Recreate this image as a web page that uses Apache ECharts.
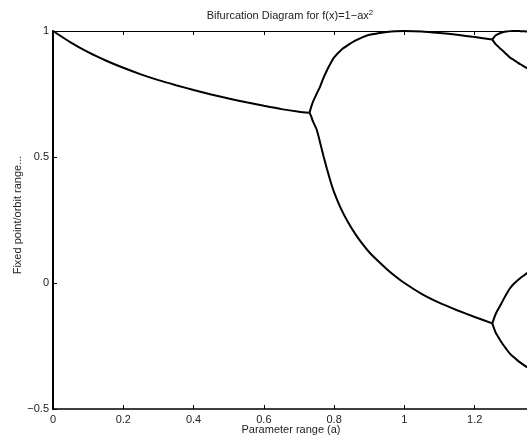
<!DOCTYPE html>
<html>
<head>
<meta charset="utf-8">
<script src="https://cdn.jsdelivr.net/npm/echarts@6/dist/echarts.min.js"></script>
<style>html,body{margin:0;padding:0;background:#fff;}#c{width:527px;height:436px;}</style>
</head>
<body>
<div id="c"></div>
<script>
// Parameter values (a) and orbit values
const fixedA = [0, 0.05, 0.1, 0.15, 0.2, 0.25, 0.3, 0.35, 0.4, 0.45, 0.5, 0.55, 0.6, 0.65, 0.7, 0.73];
const fixedX = [1.0, 0.955, 0.916, 0.883, 0.854, 0.828, 0.805, 0.785, 0.766, 0.748, 0.732, 0.717, 0.703, 0.690, 0.680, 0.676];

const p2A = [0.73, 0.735, 0.74, 0.75, 0.76, 0.77, 0.78, 0.79, 0.80, 0.82, 0.84, 0.86, 0.88, 0.90, 0.925, 0.95, 0.975, 1.0, 1.05, 1.1, 1.15, 1.2, 1.25];
const p2Upper = [0.676, 0.70, 0.72, 0.75, 0.779, 0.815, 0.845, 0.872, 0.895, 0.925, 0.945, 0.962, 0.975, 0.985, 0.991, 0.996, 0.999, 1.0, 0.998, 0.992, 0.985, 0.976, 0.966];
const p2Lower = [0.676, 0.66, 0.64, 0.61, 0.558, 0.502, 0.45, 0.402, 0.36, 0.293, 0.24, 0.195, 0.156, 0.122, 0.087, 0.055, 0.026, 0.0, -0.044, -0.079, -0.108, -0.135, -0.16];

const p4A = [1.25, 1.26, 1.27, 1.28, 1.29, 1.30, 1.31, 1.32, 1.33, 1.34, 1.35, 1.36];
const p4UU = [0.966, 0.983, 0.990, 0.995, 0.998, 0.9995, 1.0, 1.0, 0.9995, 0.999, 0.998, 0.997];
const p4UL = [0.966, 0.947, 0.934, 0.922, 0.908, 0.895, 0.886, 0.877, 0.868, 0.860, 0.852, 0.843];
const p4LU = [-0.16, -0.122, -0.096, -0.07, -0.045, -0.022, -0.005, 0.008, 0.02, 0.03, 0.04, 0.05];
const p4LL = [-0.16, -0.198, -0.221, -0.243, -0.262, -0.280, -0.293, -0.305, -0.316, -0.326, -0.335, -0.343];

const xTicks = [0, 0.2, 0.4, 0.6, 0.8, 1, 1.2, 1.4];
const yTicks = [-0.5, 0, 0.5, 1];

function pairs(a, v) { return a.map((x, i) => [x, v[i]]); }
function line(a, v) {
  return {
    type: 'line', data: pairs(a, v), showSymbol: false, smooth: 0.2,
    lineStyle: { color: '#000', width: 2 }, xAxisIndex: 0, yAxisIndex: 0, z: 3
  };
}
const fnt = 'Liberation Sans, Arial, Helvetica, sans-serif';
const chart = echarts.init(document.getElementById('c'), null, { renderer: 'canvas' });
chart.setOption({
  animation: false,
  backgroundColor: '#fff',
  title: [
    {
      text: 'Bifurcation Diagram for f(x)=1\u2212ax{s|2}',
      left: 290, top: 9, textAlign: 'center', padding: 0,
      textStyle: { fontFamily: fnt, fontSize: 11, fontWeight: 'normal', color: '#222',
        rich: { s: { fontFamily: fnt, fontSize: 8, color: '#222', verticalAlign: 'top', padding: [0, 0, 6, 0] } } }
    },
    {
      text: 'Parameter range (a)', left: 291, top: 424, textAlign: 'center', padding: 0,
      textStyle: { fontFamily: fnt, fontSize: 11, fontWeight: 'normal', color: '#222' }
    }
  ],
  grid: { left: 53, top: 31, bottom: 27, right: -18, containLabel: false, outerBoundsMode: 'none' },
  xAxis: [
    {
      type: 'value', min: 0, max: 1.4, interval: 0.2, position: 'bottom',
      axisLine: { onZero: false, lineStyle: { color: '#000', width: 1.5 } },
      axisTick: { inside: true, length: 4, lineStyle: { color: '#000', width: 1 } },
      axisLabel: { margin: 5, fontFamily: fnt, fontSize: 11, color: '#222',
        formatter: v => xTicks.includes(+v.toFixed(1)) ? String(+v.toFixed(1)) : '' },
      splitLine: { show: false }
    },
    {
      type: 'value', min: 0, max: 1.4, interval: 0.2, position: 'top',
      axisLine: { onZero: false, lineStyle: { color: '#000', width: 1 } },
      axisTick: { inside: true, length: 4, lineStyle: { color: '#000', width: 1 } },
      axisLabel: { show: false }, splitLine: { show: false }
    }
  ],
  yAxis: [
    {
      type: 'value', min: -0.5, max: 1, interval: 0.5,
      name: 'Fixed point/orbit range...', nameLocation: 'middle', nameGap: 30, nameRotate: 90,
      nameMoveOverlap: false,
      nameTextStyle: { fontFamily: fnt, fontSize: 11, color: '#222', padding: [0, 0, 0, 10] },
      axisLine: { onZero: false, lineStyle: { color: '#000', width: 2 } },
      axisTick: { inside: true, length: 4, lineStyle: { color: '#000', width: 1 } },
      axisLabel: { margin: 4, fontFamily: fnt, fontSize: 11, color: '#222',
        formatter: v => yTicks.includes(v) ? String(v).replace('-', '\u2212') : '' },
      splitLine: { show: false }
    }
  ],
  series: [
    line(fixedA, fixedX),
    line(p2A, p2Upper),
    line(p2A, p2Lower),
    line(p4A, p4UU),
    line(p4A, p4UL),
    line(p4A, p4LU),
    line(p4A, p4LL)
  ]
});
</script>
</body>
</html>
